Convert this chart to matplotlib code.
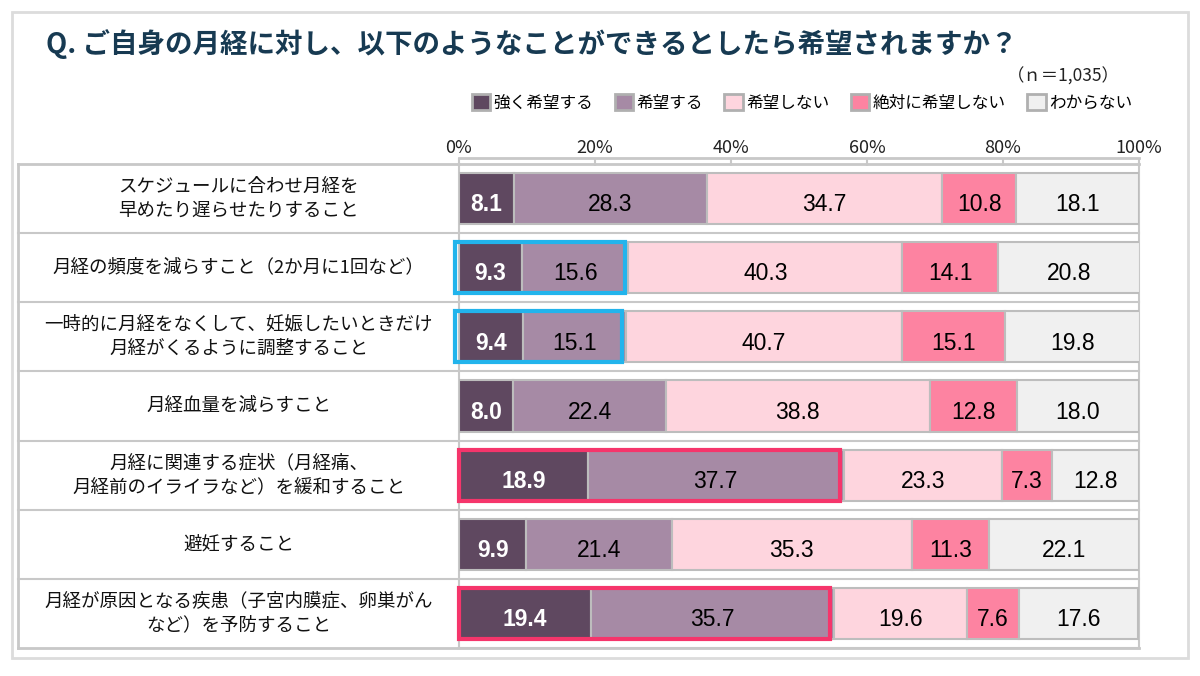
import matplotlib
matplotlib.use("Agg")
import matplotlib.pyplot as plt
import matplotlib.patches as mpatches
import matplotlib.transforms as mtrans
import numpy as np

plt.rcParams['font.family'] = ['Noto Sans CJK JP', 'DejaVu Sans']

# Data
categories = [
    "スケジュールに合わせ月経を\n早めたり遅らせたりすること",
    "月経の頻度を減らすこと（2か月に1回など）",
    "一時的に月経をなくして、妊娠したいときだけ\n月経がくるように調整すること",
    "月経血量を減らすこと",
    "月経に関連する症状（月経痛、\n月経前のイライラなど）を緩和すること",
    "避妊すること",
    "月経が原因となる疾患（子宮内膜症、卵巣がん\nなど）を予防すること",
]
series_names = ["強く希望する", "希望する", "希望しない", "絶対に希望しない", "わからない"]
strong_yes = [8.1, 9.3, 9.4, 8.0, 18.9, 9.9, 19.4]
yes = [28.3, 15.6, 15.1, 22.4, 37.7, 21.4, 35.7]
no = [34.7, 40.3, 40.7, 38.8, 23.3, 35.3, 19.6]
strong_no = [10.8, 14.1, 15.1, 12.8, 7.3, 11.3, 7.6]
unknown = [18.1, 20.8, 19.8, 18.0, 12.8, 22.1, 17.6]
x_ticks = [0, 20, 40, 60, 80, 100]
x_tick_labels = ["0%", "20%", "40%", "60%", "80%", "100%"]
blue_rows = [1, 2]
red_rows = [4, 6]

colors = ["#5f4860", "#a68aa5", "#fed5de", "#fd83a1", "#f0f0f0"]
edge = "#bdbdbd"
line_col = "#c8c8c8"

W, H = 1200, 676
fig = plt.figure(figsize=(12, 6.76), dpi=100)
fig.patch.set_facecolor("white")

# outer frame
fig.add_artist(mpatches.Rectangle((12 / W, 1 - 658 / H), (1188 - 12) / W, (658 - 12) / H,
                                  transform=fig.transFigure, fill=False,
                                  edgecolor="#dcdcdc", linewidth=2))

ax_l, ax_r, ax_t, ax_b = 459, 1139, 164, 648
ax = fig.add_axes([ax_l / W, 1 - ax_b / H, (ax_r - ax_l) / W, (ax_b - ax_t) / H])

series = [strong_yes, yes, no, strong_no, unknown]
n = len(categories)
ypos = np.arange(n) + 0.5
bar_h = 0.74
left = np.zeros(n)
for k, vals in enumerate(series):
    vals = np.array(vals)
    ax.barh(ypos, vals, left=left, height=bar_h, color=colors[k],
            edgecolor=edge, linewidth=1.5, zorder=3)
    for i, v in enumerate(vals):
        cx = left[i] + v / 2
        if k == 0:
            ax.text(cx, ypos[i] + 0.09, f"{v:.1f}", ha="center", va="center",
                    fontsize=16.5, fontweight="bold", color="white",
                    family="Liberation Sans", zorder=5)
        else:
            ax.text(cx, ypos[i] + 0.09, f"{v:.1f}", ha="center", va="center",
                    fontsize=16.5, color="black", family="Liberation Sans", zorder=5)
    left = left + vals

# highlight boxes around first two segments
for rows, col, x0 in [(blue_rows, "#22b4ec", -0.6), (red_rows, "#f5356b", 0.0)]:
    for i in rows:
        w = strong_yes[i] + yes[i] - x0 - 0.5
        ax.add_patch(mpatches.Rectangle((x0, ypos[i] - bar_h / 2), w, bar_h,
                                        fill=False, edgecolor=col, linewidth=3,
                                        zorder=6, clip_on=False))

ax.set_xlim(0, 100)
ax.set_ylim(n, 0)
ax.set_yticks([])
ax.xaxis.tick_top()
ax.set_xticks(x_ticks)
ax.set_xticklabels(x_tick_labels)
ax.tick_params(axis="x", direction="in", length=6, width=1.5, color=line_col, pad=1,
               labelsize=13, labelcolor="#222222")
for lab in ax.xaxis.get_majorticklabels():
    lab.set_family("Liberation Sans")
    lab.set_fontsize(13)
for s in ["left", "right", "bottom"]:
    ax.spines[s].set_color(line_col)
    ax.spines[s].set_linewidth(1.5)
ax.spines["top"].set_color(line_col)
ax.spines["top"].set_linewidth(2)
ax.spines["top"].set_position(("outward", 4))

# table lines and row labels
tbl_left = (18 - ax_l) / (ax_r - ax_l)
trans = mtrans.blended_transform_factory(ax.transAxes, ax.transData)
for y in range(n + 1):
    ax.plot([tbl_left, 1.0], [y, y], transform=trans, color=line_col,
            linewidth=2 if y in (0, n) else 1.5, clip_on=False, zorder=1)
ax.plot([tbl_left, tbl_left], [0, n], transform=trans, color=line_col,
        linewidth=2, clip_on=False)
label_x = (tbl_left + 0) / 2
for i, c in enumerate(categories):
    ax.text(label_x, ypos[i], c, transform=trans, ha="center", va="center",
            fontsize=13.3, color="#111111", linespacing=1.45)

# title and notes
fig.text(46 / W, 1 - 44 / H, "Q. ご自身の月経に対し、以下のようなことができるとしたら希望されますか？",
         fontsize=19.8, fontweight="bold", color="#173a52", ha="left", va="center")
fig.text(1120 / W, 1 - 77 / H, "（ｎ＝1,035）", fontsize=12.5, ha="right", va="center",
         color="#222222")

handles = [mpatches.Patch(facecolor=c, edgecolor="#b0b0b0", linewidth=2, label=s)
           for c, s in zip(colors, series_names)]
fig.legend(handles=handles, loc="center right", bbox_to_anchor=(1132 / W, 1 - 103 / H),
           ncol=5, frameon=False, fontsize=12, handlelength=1.1, handleheight=1.1,
           handletextpad=0.2, columnspacing=1.3, borderaxespad=0, borderpad=0)

fig.savefig("out.png", dpi=100, facecolor="white")
